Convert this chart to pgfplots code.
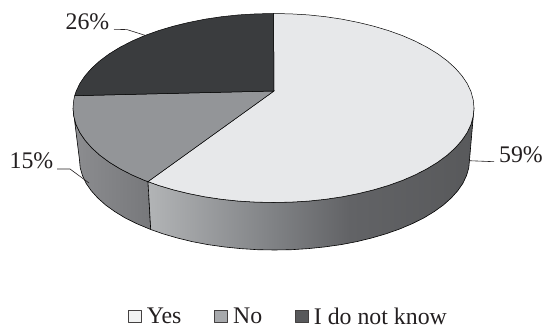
\documentclass[border=0pt]{standalone}
\usepackage{fontspec}
\setmainfont{Liberation Serif}
\usepackage{pgfplots}
\pgfplotsset{compat=1.18}

\definecolor{ink}{HTML}{231F20}
\definecolor{topYes}{HTML}{E7E8EA}
\definecolor{topNo}{HTML}{939598}
\definecolor{topDk}{HTML}{3A3C3E}
\definecolor{keyYes}{HTML}{F1F2F2}
\definecolor{keyNo}{HTML}{A7A9AC}
\definecolor{keyDk}{HTML}{58595B}
\definecolor{wa}{HTML}{B2B4B6}
\definecolor{wb}{HTML}{818386}
\definecolor{wc}{HTML}{626366}
\definecolor{wd}{HTML}{58595B}
\definecolor{we}{HTML}{8C8D90}
\definecolor{wf}{HTML}{77787B}

% Side wall gradients of the two visible slices
\pgfdeclarehorizontalshading{wallYes}{100bp}{color(0bp)=(wa); color(25bp)=(wa); color(43.7bp)=(wb); color(56bp)=(wc); color(75bp)=(wd); color(100bp)=(wd)}
\pgfdeclarehorizontalshading{wallNo}{100bp}{color(0bp)=(we); color(25bp)=(we); color(75bp)=(wf); color(100bp)=(wf)}

\begin{document}
\begin{tikzpicture}
\begin{axis}[
  scale only axis, width=543pt, height=327pt,
  xmin=0, xmax=543, ymin=0, ymax=327, y dir=reverse,
  hide axis, clip=false,
  font=\fontsize{23.8pt}{26pt}\selectfont,
  legend columns=-1,
  legend style={at={(axis cs:288.5,316.5)}, anchor=center, draw=none, fill=none,
    font=\fontsize{23.8pt}{26pt}\selectfont\color{ink},
    /tikz/every even column/.style={column sep=31pt},
    inner sep=0pt, row sep=0pt},
  legend cell align=left,
  every axis plot/.append style={line join=round},
]
% Fixes the page to the full plotting area
\path (rel axis cs:0,0) rectangle (rel axis cs:1,1);
% Side wall, "No" slice
\addplot[forget plot, draw=black, line width=0.6pt, shade, shading=wallNo] coordinates {
 (73,108) (73.8,116.2) (76.0,124.4) (79.8,132.5) (85.1,140.3) (91.8,147.9) (99.9,155.25)
 (109.3,162.2) (119.9,168.7) (131.7,174.8) (144.6,180.4) (148,181.6)
 (150.7,229.5) (149.2,228.9) (136.6,223.6) (125.1,217.9) (114.8,211.6) (105.6,205)
 (97.8,198) (91.3,190.8) (86.1,183.3) (82.5,175.6) (80.2,167.8) (79.5,160) (73,108)};
% Side wall, "Yes" slice
\addplot[forget plot, draw=black, line width=0.6pt, shade, shading=wallYes] coordinates {
 (148,181.6) (158.5,185.4) (173.25,189.8) (188.8,193.6) (204.9,196.8) (221.6,199.3)
 (238.7,201.1) (256,202.1) (273.5,202.5) (291,202.1) (308.3,201.1) (325.4,199.3)
 (342.1,196.8) (358.2,193.6) (373.75,189.8) (388.5,185.4) (402.4,180.4) (415.3,174.8)
 (427.1,168.7) (437.7,162.2) (447.1,155.25) (455.2,147.9) (461.9,140.3) (467.2,132.5)
 (471.0,124.4) (473.2,116.2) (474,108)
 (469.5,160) (468.8,167.8) (466.5,175.6) (462.9,183.3) (457.7,190.8) (451.2,198)
 (443.4,205) (434.2,211.6) (423.9,217.9) (412.4,223.6) (399.9,228.9) (386.4,233.7)
 (372,237.9) (356.9,241.6) (341.2,244.6) (325,246.9) (308.4,248.6) (291.5,249.7)
 (274.5,250) (257.5,249.7) (240.6,248.6) (224,246.9) (207.8,244.6) (192.1,241.6)
 (177,237.9) (162.6,233.7) (150.7,229.5) (148,181.6)};
% Top face: Yes, 59%
\addplot[forget plot, draw=black, line width=0.5pt, fill=topYes] coordinates {
 (274,91) (148,181.6) (158.5,185.4) (173.25,189.8) (188.8,193.6) (204.9,196.8) (221.6,199.3)
 (238.7,201.1) (256,202.1) (273.5,202.5) (291,202.1) (308.3,201.1) (325.4,199.3)
 (342.1,196.8) (358.2,193.6) (373.75,189.8) (388.5,185.4) (402.4,180.4) (415.3,174.8)
 (427.1,168.7) (437.7,162.2) (447.1,155.25) (455.2,147.9) (461.9,140.3) (467.2,132.5)
 (471.0,124.4) (473.2,116.2) (474,108) (473.2,99.8) (471.0,91.6) (467.2,83.5) (461.9,75.7)
 (455.2,68.1) (447.1,60.75) (437.7,53.8) (427.1,47.3) (415.3,41.2) (402.4,35.6) (388.5,30.6)
 (373.75,26.2) (358.2,22.4) (342.1,19.2) (325.4,16.7) (308.3,14.9) (291,13.9) (273.5,13.5)
 (274,91)};
% Top face: No, 15%
\addplot[forget plot, draw=black, line width=0.5pt, fill=topNo] coordinates {
 (274,91) (74.7,95.7) (73.8,99.8) (73,108) (73.8,116.2) (76.0,124.4) (79.8,132.5) (85.1,140.3)
 (91.8,147.9) (99.9,155.25) (109.3,162.2) (119.9,168.7) (131.7,174.8) (144.6,180.4) (148,181.6)
 (274,91)};
% Top face: I do not know, 26%
\addplot[forget plot, draw=black, line width=0.5pt, fill=topDk] coordinates {
 (274,91) (273.5,13.5) (256,13.9) (238.7,14.9) (221.6,16.7) (204.9,19.2) (188.8,22.4)
 (173.25,26.2) (158.5,30.6) (144.6,35.6) (131.7,41.2) (119.9,47.3) (109.3,53.8) (99.9,60.75)
 (91.8,68.1) (85.1,75.7) (79.8,83.5) (76.0,91.6) (74.7,95.7) (274,91)};
% Leader lines
\addplot[forget plot, draw=ink, line width=0.6pt] coordinates {(114,29.3) (127,29.6) (145,35.3)};
\addplot[forget plot, draw=ink, line width=0.6pt] coordinates {(57,169) (70,169) (89,183)};
\addplot[forget plot, draw=ink, line width=0.6pt] coordinates {(469,160.7) (494,161.7)};
% Value labels
\node[text=ink, inner sep=0pt] at (axis cs:87.5,22) {26\%};
\node[text=ink, inner sep=0pt] at (axis cs:31.5,161) {15\%};
\node[text=ink, inner sep=0pt] at (axis cs:521,155) {59\%};
% Legend keys
\pgfplotsset{keybox/.style={legend image code/.code={%
  \draw[##1, draw=ink!85, line width=1pt] (0pt,-6pt) rectangle (13pt,6.5pt);
  \path (16pt,0pt);}}}
\addlegendimage{keybox, fill=keyYes}
\addlegendentry{Yes}
\addlegendimage{keybox, fill=keyNo}
\addlegendentry{No}
\addlegendimage{keybox, fill=keyDk}
\addlegendentry{I do not know}
\end{axis}
\end{tikzpicture}
\end{document}
